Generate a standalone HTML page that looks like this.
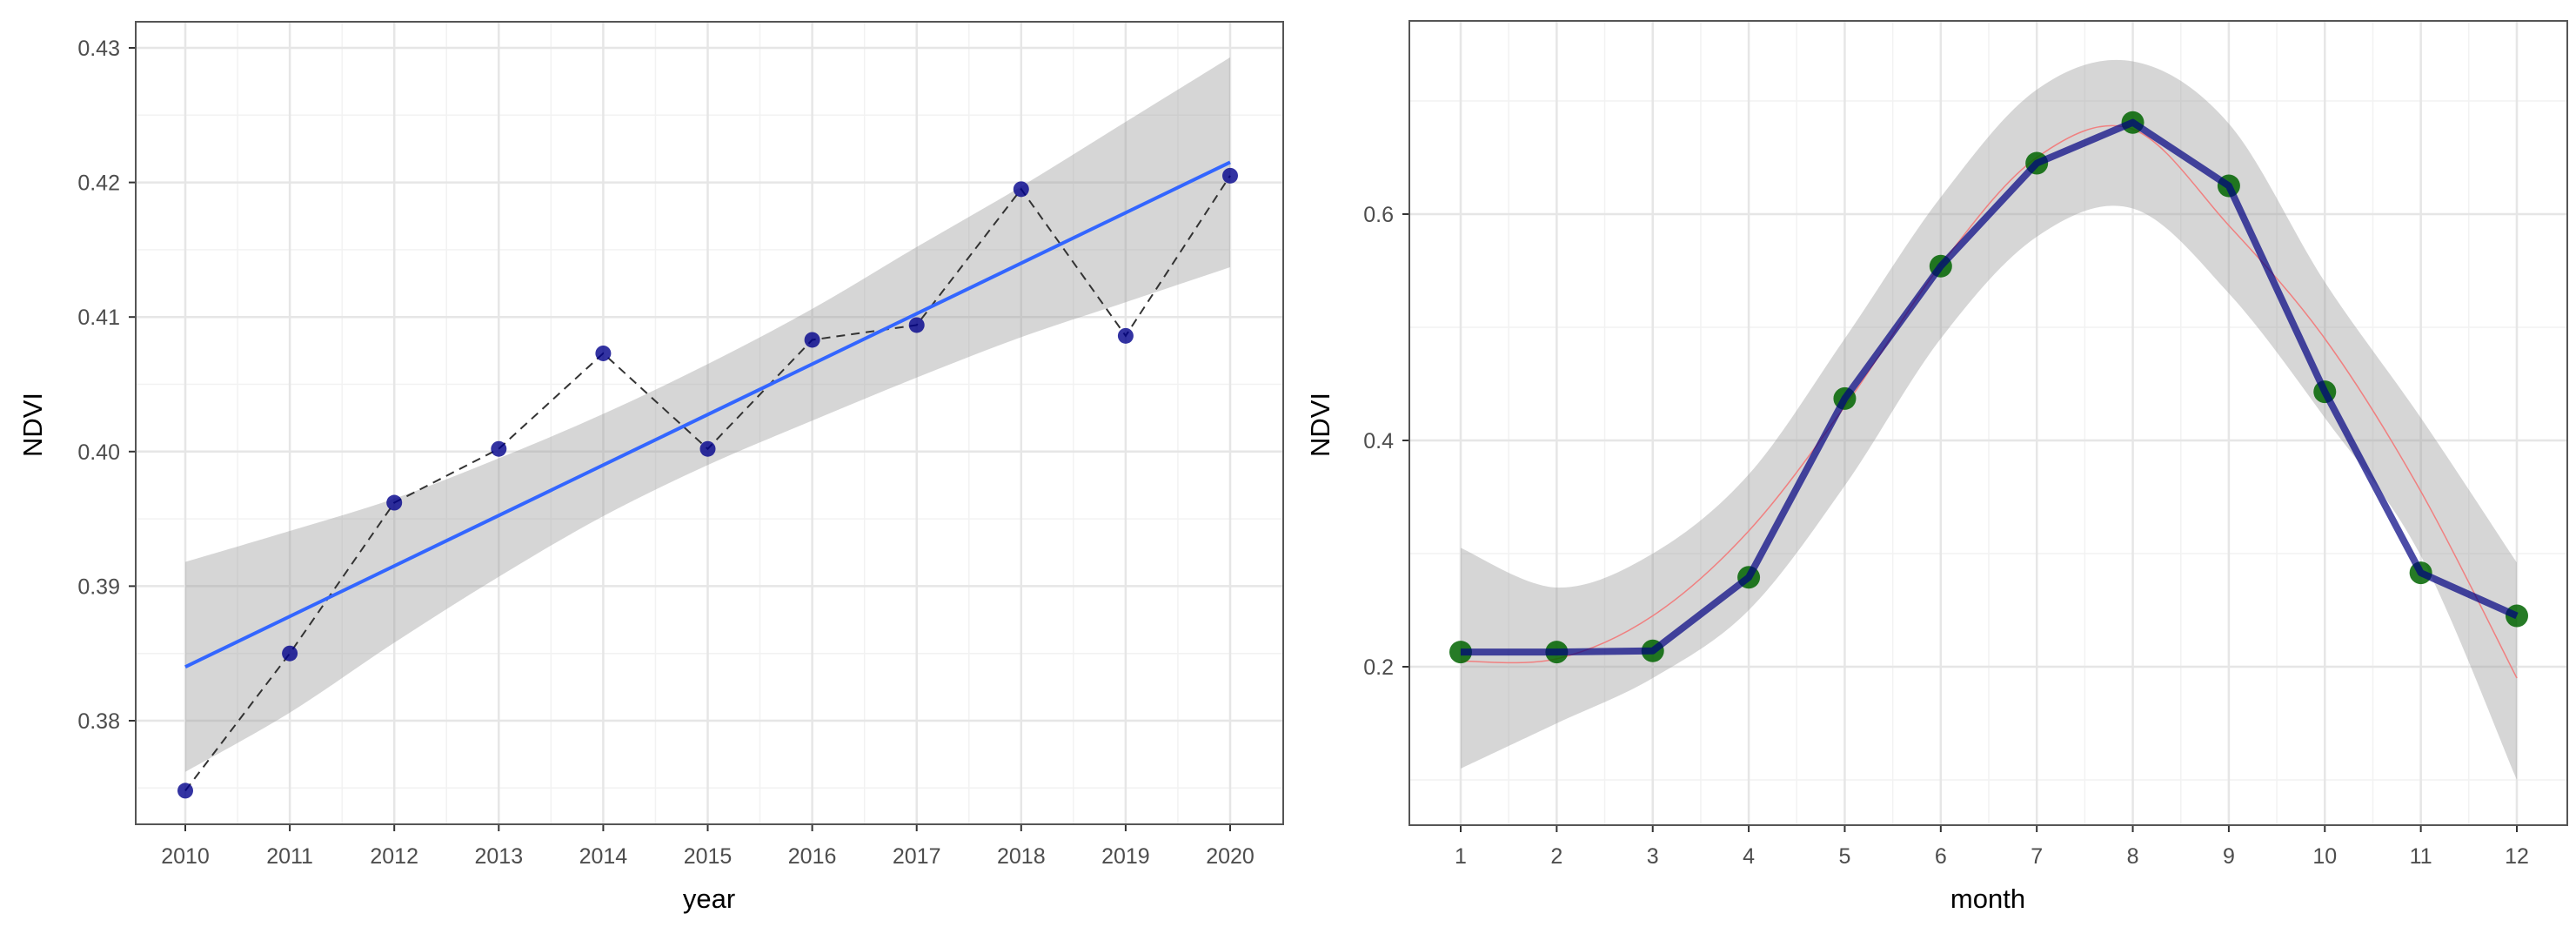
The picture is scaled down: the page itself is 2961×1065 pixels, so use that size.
<!DOCTYPE html>
<html><head><meta charset="utf-8"><style>
body{margin:0;background:#fff}
svg{display:block;font-family:"Liberation Sans",sans-serif}
</style></head><body>
<svg id="c" width="2961" height="1065" xmlns="http://www.w3.org/2000/svg"></svg>
<script>
const years=[2010,2011,2012,2013,2014,2015,2016,2017,2018,2019,2020];
const yearNdvi=[0.3748,0.3850,0.3962,0.4002,0.4073,0.4002,0.4083,0.4094,0.4195,0.4086,0.4205];
const fitStart=0.3840, fitEnd=0.4215;
const bandLowY=[0.3762,0.3806,0.3858,0.3907,0.3952,0.3990,0.4023,0.4055,0.4085,0.4111,0.4137];
const bandHighY=[0.3918,0.3941,0.3965,0.3995,0.4028,0.4065,0.4106,0.4152,0.4197,0.4245,0.4293];
const yTicksL=[0.38,0.39,0.40,0.41,0.42,0.43];
const yTickLabelsL=["0.38","0.39","0.40","0.41","0.42","0.43"];
const months=[1,2,3,4,5,6,7,8,9,10,11,12];
const monthNdvi=[0.213,0.213,0.214,0.279,0.437,0.554,0.645,0.681,0.625,0.443,0.283,0.245];
const loessFit=[0.205,0.207,0.245,0.320,0.430,0.555,0.650,0.675,0.590,0.490,0.355,0.190];
const loessLow=[0.110,0.150,0.190,0.250,0.360,0.490,0.580,0.605,0.530,0.420,0.298,0.100];
const loessHigh=[0.305,0.270,0.300,0.370,0.490,0.615,0.710,0.735,0.680,0.540,0.420,0.292];
const yTicksR=[0.2,0.4,0.6];
const yTickLabelsR=["0.2","0.4","0.6"];

const S=document.getElementById('c');const NS="http://www.w3.org/2000/svg";
function mk(t,a,p){const e=document.createElementNS(NS,t);for(const k in a)e.setAttribute(k,a[k]);(p||S).appendChild(e);return e;}
function smooth(pts){let d="M"+pts[0][0]+","+pts[0][1];for(let i=0;i<pts.length-1;i++){const p0=pts[i-1]||pts[i],p1=pts[i],p2=pts[i+1],p3=pts[i+2]||p2;
d+=" C"+(p1[0]+(p2[0]-p0[0])/6)+","+(p1[1]+(p2[1]-p0[1])/6)+" "+(p2[0]-(p3[0]-p1[0])/6)+","+(p2[1]-(p3[1]-p1[1])/6)+" "+p2[0]+","+p2[1];}return d;}
const TF=25, AF=31;

// ---------- left panel ----------
const L={x0:156,x1:1475,y0:25,y1:947};
const xL=v=>213+(v-2010)*(1414-213)/10;
const yL=v=>55+(0.43-v)*15460;
const gL=mk('g',{});
for(let i=0;i<years.length-1;i++){const x=(xL(years[i])+xL(years[i+1]))/2;const e=mk('line',{x1:x,x2:x,y1:L.y0,y2:L.y1,stroke:'#f2f2f2','stroke-width':1.5},gL);}
for(let v=0.375;v<0.431;v+=0.01){const y=yL(v);const e=mk('line',{x1:L.x0,x2:L.x1,y1:y,y2:y,stroke:'#f2f2f2','stroke-width':1.5},gL);}
years.forEach(v=>{const x=xL(v);const e=mk('line',{x1:x,x2:x,y1:L.y0,y2:L.y1,stroke:'#e6e6e6','stroke-width':2.5},gL);
const t=mk('text',{x:x,y:992,'text-anchor':'middle','font-size':TF,fill:'#4d4d4d'},gL);t.textContent=v;
mk('line',{x1:x,x2:x,y1:L.y1,y2:L.y1+8,stroke:'#333','stroke-width':2},gL);});
yTicksL.forEach((v,i)=>{const y=yL(v);const e=mk('line',{x1:L.x0,x2:L.x1,y1:y,y2:y,stroke:'#e6e6e6','stroke-width':2.5},gL);
const t=mk('text',{x:138,y:y+9,'text-anchor':'end','font-size':TF,fill:'#4d4d4d'},gL);t.textContent=yTickLabelsL[i];
mk('line',{x1:L.x0-8,x2:L.x0,y1:y,y2:y,stroke:'#333','stroke-width':2},gL);});
const up=years.map((v,i)=>[xL(v),yL(bandHighY[i])]),lo=years.map((v,i)=>[xL(v),yL(bandLowY[i])]).reverse();
const slo=smooth(lo);
const band=mk('path',{d:smooth(up)+" L"+lo[0][0]+","+lo[0][1]+slo.slice(slo.indexOf(' '))+"Z",fill:'#999','fill-opacity':0.4},gL);
const dl=mk('polyline',{points:years.map((v,i)=>xL(v)+","+yL(yearNdvi[i])).join(" "),fill:'none',stroke:'#333','stroke-width':2,'stroke-dasharray':'10,7'},gL);
const fl=mk('line',{x1:xL(2010),y1:yL(fitStart),x2:xL(2020),y2:yL(fitEnd),stroke:'#3366ff','stroke-width':4},gL);
years.forEach((v,i)=>{const c=mk('circle',{cx:xL(v),cy:yL(yearNdvi[i]),r:9,fill:'#00008b','fill-opacity':0.8},gL);});
const fr=mk('rect',{x:L.x0,y:L.y0,width:L.x1-L.x0,height:L.y1-L.y0,fill:'none',stroke:'#555','stroke-width':2},gL);
let t=mk('text',{x:815,y:1043,'text-anchor':'middle','font-size':AF,fill:'#000'},gL);t.textContent='year';
t=mk('text',{x:48,y:488,'text-anchor':'middle','font-size':AF,fill:'#000',transform:'rotate(-90 48 488)'},gL);t.textContent='NDVI';

// ---------- right panel ----------
const R={x0:1620,x1:2951,y0:24,y1:948};
const xR=v=>1679+(v-1)*(2893-1679)/11;
const yR=v=>766-(v-0.2)*1300;
const gR=mk('g',{});
for(let i=0;i<months.length-1;i++){const x=(xR(months[i])+xR(months[i+1]))/2;const e=mk('line',{x1:x,x2:x,y1:R.y0,y2:R.y1,stroke:'#f2f2f2','stroke-width':1.5},gR);}
[0.1,0.3,0.5,0.7].forEach(v=>{const y=yR(v);const e=mk('line',{x1:R.x0,x2:R.x1,y1:y,y2:y,stroke:'#f2f2f2','stroke-width':1.5},gR);});
months.forEach(v=>{const x=xR(v);const e=mk('line',{x1:x,x2:x,y1:R.y0,y2:R.y1,stroke:'#e6e6e6','stroke-width':2.5},gR);
const t=mk('text',{x:x,y:992,'text-anchor':'middle','font-size':TF,fill:'#4d4d4d'},gR);t.textContent=v;
mk('line',{x1:x,x2:x,y1:R.y1,y2:R.y1+8,stroke:'#333','stroke-width':2},gR);});
yTicksR.forEach((v,i)=>{const y=yR(v);const e=mk('line',{x1:R.x0,x2:R.x1,y1:y,y2:y,stroke:'#e6e6e6','stroke-width':2.5},gR);
const t=mk('text',{x:1602,y:y+9,'text-anchor':'end','font-size':TF,fill:'#4d4d4d'},gR);t.textContent=yTickLabelsR[i];
mk('line',{x1:R.x0-8,x2:R.x0,y1:y,y2:y,stroke:'#333','stroke-width':2},gR);});
const up2=months.map((v,i)=>[xR(v),yR(loessHigh[i])]),lo2=months.map((v,i)=>[xR(v),yR(loessLow[i])]).reverse();
const sl=smooth(lo2);
const band2=mk('path',{d:smooth(up2)+" L"+lo2[0][0]+","+lo2[0][1]+sl.slice(sl.indexOf(' '))+"Z",fill:'#999','fill-opacity':0.4},gR);
const rl=mk('path',{d:smooth(months.map((v,i)=>[xR(v),yR(loessFit[i])])),fill:'none',stroke:'#f08080','stroke-width':1.5},gR);
months.forEach((v,i)=>{const c=mk('circle',{cx:xR(v),cy:yR(monthNdvi[i]),r:13,fill:'#006400','fill-opacity':0.85},gR);});
const ml=mk('polyline',{points:months.map((v,i)=>xR(v)+","+yR(monthNdvi[i])).join(" "),fill:'none',stroke:'#000080','stroke-opacity':0.7,'stroke-width':8,'stroke-linejoin':'round'},gR);
const fr2=mk('rect',{x:R.x0,y:R.y0,width:R.x1-R.x0,height:R.y1-R.y0,fill:'none',stroke:'#555','stroke-width':2},gR);
t=mk('text',{x:2285,y:1043,'text-anchor':'middle','font-size':AF,fill:'#000'},gR);t.textContent='month';
t=mk('text',{x:1528,y:488,'text-anchor':'middle','font-size':AF,fill:'#000',transform:'rotate(-90 1528 488)'},gR);t.textContent='NDVI';
</script>
</body></html>
